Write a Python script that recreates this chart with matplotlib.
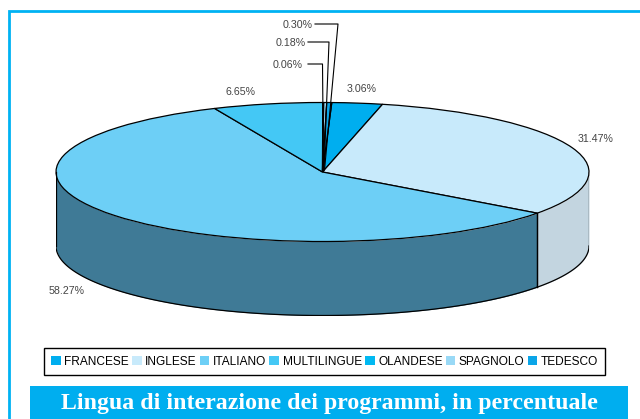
import matplotlib
matplotlib.use('Agg')
import matplotlib.pyplot as plt
from matplotlib.patches import Rectangle
import numpy as np

plt.rcParams['font.family'] = ['Liberation Sans', 'DejaVu Sans']

languages = ['FRANCESE', 'INGLESE', 'ITALIANO', 'MULTILINGUE', 'OLANDESE', 'SPAGNOLO', 'TEDESCO']
percent = [3.06, 31.47, 58.27, 6.65, 0.06, 0.18, 0.30]
colors = ['#00aeef', '#c8eafb', '#6dcff6', '#44c8f5', '#00b9f2', '#99d9f6', '#0aa5e8']
wall_colors = ['#00aeef', '#c3d5e0', '#3f7a96', '#44c8f5', '#00b9f2', '#99d9f6', '#0aa5e8']
title = 'Lingua di interazione dei programmi, in percentuale'

W, H = 640, 419
cx, cy, rx, ry, depth = 322.5, 172, 266.5, 69.5, 74
start_deg = 2.0  # clockwise from 12 o'clock

fig = plt.figure(figsize=(W / 100, H / 100), dpi=100)

# background in pixel coords: frame, title band, labels
bg = fig.add_axes([0, 0, 1, 1])
bg.set_xlim(0, W)
bg.set_ylim(H, 0)
bg.axis('off')
frame_c = '#00b2f3'
bg.plot([9, 9, W], [H, 11, 11], color=frame_c, lw=2.0, solid_joinstyle='miter')
bg.add_patch(Rectangle((30, 386), 598, 33, color='#00aeef', lw=0))
bg.text(329, 403, title, ha='center', va='center', color='white', fontsize=17.2,
        fontweight='bold', family=['Liberation Serif', 'DejaVu Serif'])

# pie axes: x/y squeezed so that the round pie turns into the top ellipse
pie_ax = fig.add_axes([(cx - rx) / W, 1 - (cy + ry + depth) / H, 2 * rx / W, (2 * ry + depth) / H])
pie_ax.patch.set_alpha(0)
pie_ax.axis('off')
d = depth / ry

# side wall, only the front half (angle 90..270 clockwise from top) can be seen
edges = start_deg + np.cumsum([0] + percent) * 3.6
for i in range(len(percent)):
    a0, a1 = max(edges[i], 90), min(edges[i + 1], 270)
    if a1 <= a0:
        continue
    t = np.radians(np.linspace(a0, a1, 120))
    x = np.sin(t)
    y = np.cos(t)
    pie_ax.fill_between(x, y, y - d, color=wall_colors[i], lw=0)
    pie_ax.plot(x, y - d, color='black', lw=0.9)
    pie_ax.plot([x[0], x[0]], [y[0], y[0] - d], color='black', lw=0.9)
    pie_ax.plot([x[-1], x[-1]], [y[-1], y[-1] - d], color='black', lw=0.9)

wedges, _ = pie_ax.pie(percent, colors=colors, startangle=90 - start_deg, counterclock=False,
                       wedgeprops={'edgecolor': 'black', 'linewidth': 0.9})
pie_ax.set_aspect('auto')
pie_ax.set_xlim(-1, 1)
pie_ax.set_ylim(-1 - d, 1)

leg = bg.legend(wedges, languages, loc='center', bbox_to_anchor=(324.5, 361.5),
                bbox_transform=bg.transData, ncol=7, fontsize=8.6, frameon=True, fancybox=False,
                edgecolor='black', framealpha=1, handlelength=0.82, handleheight=0.82,
                handletextpad=0.3, columnspacing=0.25, borderpad=0.6, borderaxespad=0)
leg.get_frame().set_linewidth(1)
for h in leg.legend_handles:
    h.set_edgecolor('none')
leg.set_zorder(5)

# value labels and leader lines go on top
top = fig.add_axes([0, 0, 1, 1])
top.set_xlim(0, W)
top.set_ylim(H, 0)
top.axis('off')
top.patch.set_alpha(0)
label_txt = ['%.2f%%' % p for p in percent]
label_pos = [(362, 89), (596, 139), (67, 291), (240, 92), (288, 64.5), (291, 42.5), (297.5, 24.5)]
for s, (x, y) in zip(label_txt, label_pos):
    top.text(x, y, s, ha='center', va='center', fontsize=7.7, color='#444444')
leaders = [([308, 322.5, 323.5], [64, 64, 170]),
           ([308, 329, 324], [42, 42, 170]),
           ([315, 338, 324.5], [24, 24, 170])]
for lx, ly in leaders:
    top.plot(lx, ly, color='black', lw=0.8)

fig.savefig('out.png', dpi=100)
